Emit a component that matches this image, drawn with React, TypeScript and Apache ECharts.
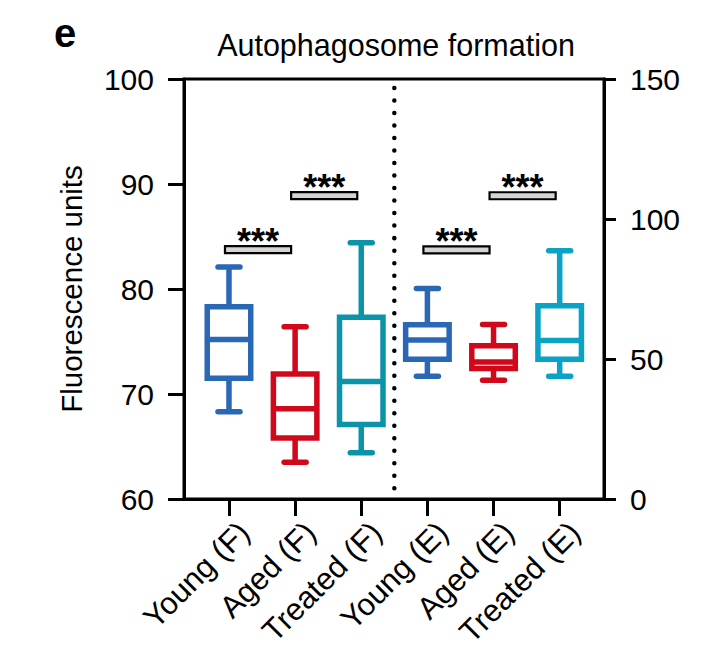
import React, { useEffect, useRef } from 'react';
import * as echarts from 'echarts';

// ---------- data ----------
const CATEGORIES = ['Young (F)', 'Aged (F)', 'Treated (F)', 'Young (E)', 'Aged (E)', 'Treated (E)'];
// box statistics: [min, Q1, median, Q3, max]
const YOUNG_F = [68.3, 71.5, 75.2, 78.3, 82.1];
const AGED_F = [63.5, 65.8, 68.6, 71.9, 76.4];
const TREATED_F = [64.4, 67.1, 71.2, 77.3, 84.4];
const YOUNG_E = [43.8, 49.9, 56.8, 62.2, 75.2];
const AGED_E = [42.4, 46.6, 48.9, 54.7, 62.3];
const TREATED_E = [43.8, 49.9, 56.6, 69.0, 88.7];

const LEFT_AXIS = { min: 60, max: 100, interval: 10 };
const RIGHT_AXIS = { min: 0, max: 150, interval: 50 };

// significance brackets: [from category, to category, level]
const SIG_F = [[0, 1, 83.75], [1, 2, 88.9]];
const SIG_E = [[3, 4, 89.0], [4, 5, 108.3]];
const SIG_LABEL = '***';
const DIVIDER_X = 2.5;

const TITLE = 'Autophagosome formation';
const PANEL_LABEL = 'e';
const Y_NAME = 'Fluorescence units';

// ---------- styles ----------
const BOX_COLORS = ['#2a67b5', '#d1081c', '#0b94a9', '#2a67b5', '#d1081c', '#0aa2c6'];
const FONT = '"Liberation Sans", Arial, Helvetica, sans-serif';
const BOX_HALF = 21.75;
const CAP_HALF = 11;
const LW = 5.5;

function renderBox(params: any, api: any) {
  const x = api.value(0);
  const mn = api.value(1), q1 = api.value(2), md = api.value(3), q3 = api.value(4), mx = api.value(5);
  const pMin = api.coord([x, mn]);
  const pQ1 = api.coord([x, q1]);
  const pMd = api.coord([x, md]);
  const pQ3 = api.coord([x, q3]);
  const pMax = api.coord([x, mx]);
  const cx = pMin[0];
  const color = BOX_COLORS[Math.round(x)];
  const st = { stroke: color, lineWidth: LW, fill: 'none' };
  const cap = { stroke: color, lineWidth: LW, lineCap: 'round' };
  return {
    type: 'group',
    children: [
      { type: 'line', shape: { x1: cx, y1: pMax[1], x2: cx, y2: pQ3[1] }, style: st },
      { type: 'line', shape: { x1: cx, y1: pQ1[1], x2: cx, y2: pMin[1] }, style: st },
      { type: 'line', shape: { x1: cx - CAP_HALF, y1: pMax[1], x2: cx + CAP_HALF, y2: pMax[1] }, style: cap },
      { type: 'line', shape: { x1: cx - CAP_HALF, y1: pMin[1], x2: cx + CAP_HALF, y2: pMin[1] }, style: cap },
      {
        type: 'rect',
        shape: { x: cx - BOX_HALF, y: pQ3[1], width: 2 * BOX_HALF, height: pQ1[1] - pQ3[1] },
        style: { stroke: color, lineWidth: LW, fill: '#fff', lineJoin: 'miter' },
      },
      { type: 'line', shape: { x1: cx - BOX_HALF, y1: pMd[1], x2: cx + BOX_HALF, y2: pMd[1] }, style: st },
    ],
  };
}

function renderSig(params: any, api: any) {
  const p1 = api.coord([api.value(0), api.value(2)]);
  const p2 = api.coord([api.value(1), api.value(2)]);
  return {
    type: 'group',
    children: [
      {
        type: 'rect',
        shape: { x: p1[0] - 4, y: p1[1] - 3.5, width: p2[0] - p1[0], height: 7 },
        style: { fill: '#d4d4d4', stroke: '#000', lineWidth: 2.2 },
      },
      {
        type: 'text',
        style: {
          text: SIG_LABEL,
          x: (p1[0] + p2[0]) / 2 - 4,
          y: p1[1] - 8,
          align: 'center',
          verticalAlign: 'middle',
          fontSize: 36,
          fontWeight: 'bold',
          fontFamily: FONT,
          fill: '#000',
        },
      },
    ],
  };
}

function renderDivider(params: any, api: any) {
  const x = api.value(0);
  const top = api.coord([x, LEFT_AXIS.max]);
  const bot = api.coord([x, LEFT_AXIS.min]);
  return {
    type: 'line',
    shape: { x1: top[0], y1: top[1] + 9, x2: bot[0], y2: bot[1] },
    style: { stroke: '#000', lineWidth: 4.5, lineCap: 'round', lineDash: [0.01, 12.5] },
  };
}

export default function App() {
  const ref = useRef<HTMLDivElement>(null);
  useEffect(() => {
    if (!ref.current) return;
    const chart = echarts.init(ref.current, null, { renderer: 'svg' });
    const fStats = [YOUNG_F, AGED_F, TREATED_F];
    const eStats = [YOUNG_E, AGED_E, TREATED_E];
    const fData = fStats.map((s, i) => [i, ...s]);
    const eData = eStats.map((s, i) => [i + 3, ...s]);
    const idx = CATEGORIES.map((_, i) => i);
    const labelStyle = { fontSize: 30, color: '#000', fontFamily: FONT };

    chart.setOption({
      animation: false,
      backgroundColor: '#fff',
      grid: {
        left: 184, right: 110, top: 79, bottom: 157,
        show: true, borderColor: '#000', borderWidth: 3, backgroundColor: 'transparent',
      },
      graphic: [
        {
          type: 'text', x: 396, y: 29,
          style: { text: TITLE, fontSize: 30.5, fontFamily: FONT, fill: '#000', align: 'center', verticalAlign: 'top' },
        },
        {
          type: 'text', x: 54, y: 13,
          style: { text: PANEL_LABEL, fontSize: 40, fontWeight: 'bold', fontFamily: FONT, fill: '#000', verticalAlign: 'top' },
        },
      ],
      xAxis: {
        type: 'value',
        min: -0.68,
        max: 5.67,
        splitLine: { show: false },
        axisLine: { show: true, onZero: false, lineStyle: { color: '#000', width: 3 } },
        axisTick: { show: true, customValues: idx, length: 17, lineStyle: { color: '#000', width: 3 } },
        axisLabel: {
          customValues: idx,
          rotate: 45,
          margin: 13,
          verticalAlign: 'top',
          padding: [6, 0, 0, 0],
          formatter: (v: number) => CATEGORIES[Math.round(v)] ?? '',
          ...labelStyle,
          fontSize: 31,
        },
      },
      yAxis: [
        {
          type: 'value',
          position: 'left',
          ...LEFT_AXIS,
          splitLine: { show: false },
          axisLine: { show: true, onZero: false, lineStyle: { color: '#000', width: 3 } },
          axisTick: { show: true, length: 16, lineStyle: { color: '#000', width: 3 } },
          axisLabel: { margin: 30, ...labelStyle },
          name: Y_NAME,
          nameLocation: 'middle',
          nameGap: 98,
          nameTextStyle: { fontSize: 29.5, color: '#000', fontFamily: FONT },
        },
        {
          type: 'value',
          position: 'right',
          ...RIGHT_AXIS,
          splitLine: { show: false },
          axisLine: { show: true, onZero: false, lineStyle: { color: '#000', width: 3 } },
          axisTick: { show: true, length: 12, lineStyle: { color: '#000', width: 3 } },
          axisLabel: { margin: 26, ...labelStyle },
        },
      ],
      series: [
        {
          type: 'custom', name: 'divider', yAxisIndex: 0, renderItem: renderDivider,
          data: [[DIVIDER_X]], encode: { x: 0 }, z: 1, silent: true,
        },
        {
          type: 'custom', name: 'F', yAxisIndex: 0, renderItem: renderBox,
          data: fData, encode: { x: 0, y: [1, 2, 3, 4, 5] }, z: 3,
        },
        {
          type: 'custom', name: 'E', yAxisIndex: 1, renderItem: renderBox,
          data: eData, encode: { x: 0, y: [1, 2, 3, 4, 5] }, z: 3,
        },
        {
          type: 'custom', name: 'sigF', yAxisIndex: 0, renderItem: renderSig,
          data: SIG_F, encode: { x: [0, 1], y: 2 }, z: 4,
        },
        {
          type: 'custom', name: 'sigE', yAxisIndex: 1, renderItem: renderSig,
          data: SIG_E, encode: { x: [0, 1], y: 2 }, z: 4,
        },
      ],
    });
    return () => chart.dispose();
  }, []);
  return <div ref={ref} style={{ position: 'fixed', left: 0, top: 0, width: 714, height: 656 }} />;
}
